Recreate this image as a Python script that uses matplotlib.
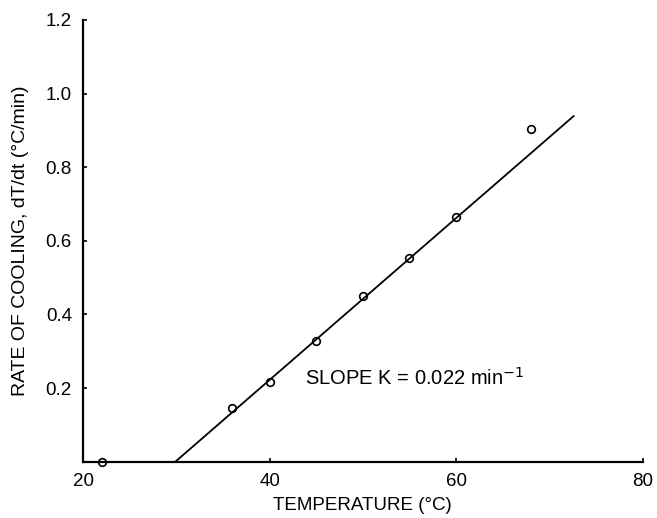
import matplotlib
matplotlib.use("Agg")
import matplotlib.pyplot as plt

plt.rcParams['font.family'] = ['Liberation Sans', 'DejaVu Sans']

temperature = [22, 36, 40, 45, 50, 55, 60, 68]
rate = [0.0, 0.146, 0.217, 0.328, 0.450, 0.553, 0.665, 0.905]
fit_x = [29.9, 72.6]
fit_y = [0.0, 0.939]
x_ticks = [20, 40, 60, 80]
y_ticks = [0.2, 0.4, 0.6, 0.8, 1.0, 1.2]
y_ticklabels = ["0.2", "0.4", "0.6", "0.8", "1.0", "1.2"]

fig = plt.figure(figsize=(6.57, 5.18), dpi=100)
ax = fig.add_axes([83/657, 1-461.7/518, (642.7-83)/657, (461.7-20)/518])

ax.plot(fit_x, fit_y, color='black', lw=1.3, zorder=2)
ax.plot(temperature, rate, linestyle='none', marker='o', markersize=5.5,
        markerfacecolor='white', markeredgecolor='black', markeredgewidth=1.2,
        clip_on=False, zorder=1)

ax.set_xlim(20, 80)
ax.set_ylim(0, 1.2)
ax.set_xticks(x_ticks)
ax.set_yticks(y_ticks)
ax.set_yticklabels(y_ticklabels)

for s in ['top', 'right']:
    ax.spines[s].set_visible(False)
for s in ['left', 'bottom']:
    ax.spines[s].set_linewidth(1.6)
    ax.spines[s].set_zorder(5)

ax.tick_params(direction='in', length=3, width=1.2, labelsize=13.5, pad=8)

ax.set_xlabel('TEMPERATURE (°C)', fontsize=13.5, labelpad=5)
ax.set_ylabel('RATE OF COOLING, dT/dt (°C/min)', fontsize=14, labelpad=12)

ax.text(43.8, 0.227, 'SLOPE K = 0.022 min$^{-1}$', fontsize=14.5, ha='left', va='center')

fig.savefig('out.png', dpi=100)
